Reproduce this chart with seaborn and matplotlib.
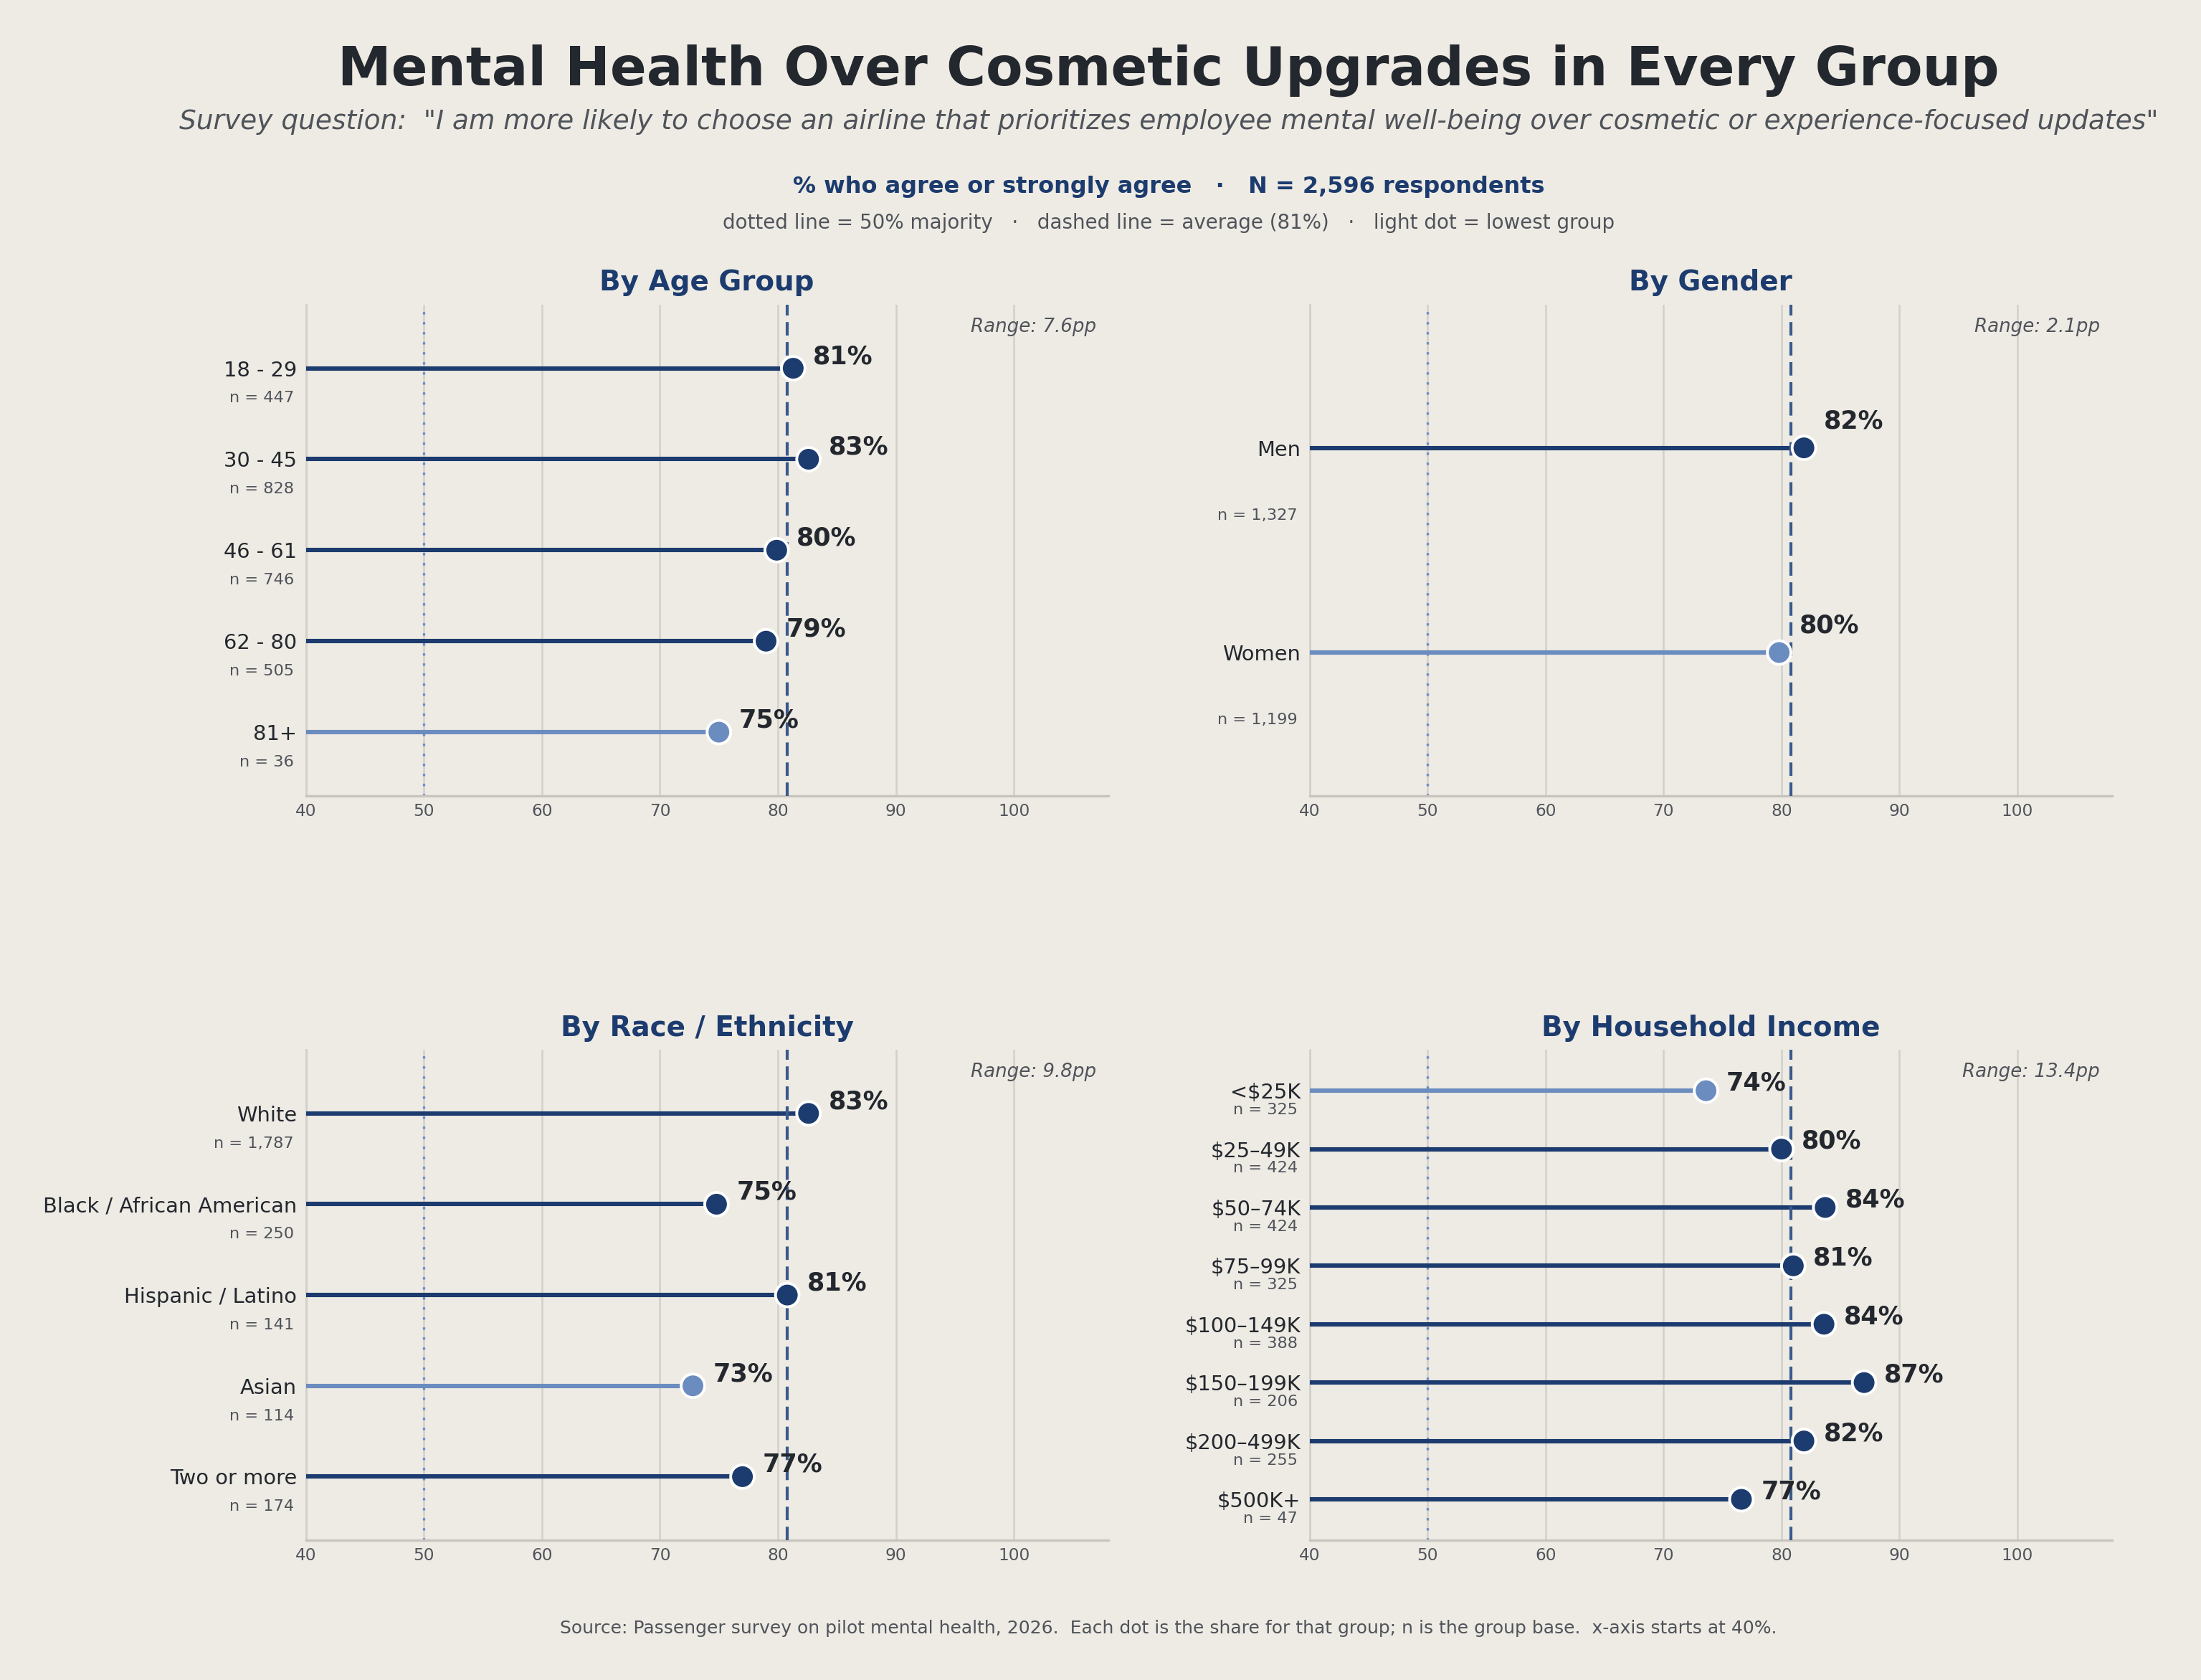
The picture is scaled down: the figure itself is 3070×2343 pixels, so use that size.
import numpy as np
import pandas as pd
import matplotlib.pyplot as plt
import matplotlib.transforms as mtransforms
import seaborn as sns

# Survey values (% agree or strongly agree)
age_labels = ["18 - 29", "30 - 45", "46 - 61", "62 - 80", "81+"]
age_values = [81.3, 82.6, 79.9, 79.0, 75.0]
age_n = [447, 828, 746, 505, 36]

gender_labels = ["Men", "Women"]
gender_values = [81.9, 79.8]
gender_n = [1327, 1199]

race_labels = ["White", "Black / African American", "Hispanic / Latino", "Asian", "Two or more"]
race_values = [82.6, 74.8, 80.8, 72.8, 77.0]
race_n = [1787, 250, 141, 114, 174]

income_labels = ["<$25K", "$25–49K", "$50–74K", "$75–99K", "$100–149K",
                 "$150–199K", "$200–499K", "$500K+"]
income_values = [73.6, 80.0, 83.7, 81.0, 83.6, 87.0, 81.9, 76.6]
income_n = [325, 424, 424, 325, 388, 206, 255, 47]

overall_avg = 80.8
majority = 50
x_ticks = [40, 50, 60, 70, 80, 90, 100]

BG = "#EEEBE4"
NAVY = "#1C3B6E"
LIGHT = "#6B8CBF"
DARK = "#23272E"
GREY = "#4F535A"

sns.set_theme(style="white")
plt.rcParams["font.family"] = ["DejaVu Sans"]
plt.rcParams["figure.facecolor"] = BG
plt.rcParams["axes.facecolor"] = BG


def draw_panel(ax, title, labels, values, ns):
    df = pd.DataFrame({"group": labels, "pct": values, "n": ns})
    df["pos"] = np.arange(len(df))
    low = df["pct"].idxmin()
    df["tone"] = np.where(df.index == low, "low", "main")
    colors = df["tone"].map({"main": NAVY, "low": LIGHT})

    ax.hlines(df["pos"], 40, df["pct"], colors=colors, lw=2.2, zorder=3)
    sns.scatterplot(data=df, x="pct", y="pos", hue="tone",
                    palette={"main": NAVY, "low": LIGHT}, s=140,
                    edgecolor="white", linewidth=1.4, legend=False,
                    ax=ax, zorder=5)

    ax.axvline(majority, color="#6B8CC8", lw=1.2, ls=(0, (1, 3.2)), zorder=2)
    ax.axvline(overall_avg, color="#3A5A8C", lw=1.5, ls=(0, (4.5, 2.2)), zorder=4)

    for _, r in df.iterrows():
        ax.text(r["pct"] + 1.7, r["pos"] - 0.13, f"{r['pct']:.0f}%",
                fontsize=12.6, fontweight="bold", color=DARK,
                ha="left", va="center", zorder=6)

    trans = mtransforms.blended_transform_factory(ax.transAxes, ax.transData)
    for _, r in df.iterrows():
        ax.text(-0.015, r["pos"] + 0.33, f"n = {r['n']:,}", transform=trans,
                fontsize=8.1, color=GREY, ha="right", va="center")

    rng = df["pct"].max() - df["pct"].min()
    ax.text(0.985, 0.955, f"Range: {rng:.1f}pp", transform=ax.transAxes,
            fontsize=9.4, style="italic", color=GREY, ha="right", va="center")

    ax.set_xlim(40, 108)
    ax.set_ylim(len(df) - 1 + 0.7, -0.7)
    ax.set_xticks(x_ticks)
    ax.set_yticks(df["pos"])
    ax.set_yticklabels(df["group"])
    ax.tick_params(axis="y", length=0, pad=4.5, labelsize=10.4, labelcolor=DARK)
    ax.tick_params(axis="x", length=0, pad=3.5, labelsize=8.4, labelcolor=GREY)
    ax.xaxis.grid(True, color="#D3D0C9", lw=0.9)
    ax.set_axisbelow(True)
    ax.set_xlabel("")
    ax.set_ylabel("")
    for side in ["top", "right"]:
        ax.spines[side].set_visible(False)
    ax.spines["left"].set_color("#D3D0C9")
    ax.spines["left"].set_linewidth(1.0)
    ax.spines["bottom"].set_color("#C8C5BE")
    ax.spines["bottom"].set_linewidth(1.2)
    ax.set_title(title, fontsize=14, fontweight="bold", color=NAVY, pad=7)


fig = plt.figure(figsize=(15.35, 11.715), dpi=200)
ax1 = fig.add_axes([0.139, 0.5263, 0.3645, 0.2924])
ax2 = fig.add_axes([0.595, 0.5263, 0.3645, 0.2924])
ax3 = fig.add_axes([0.139, 0.0832, 0.3645, 0.2919])
ax4 = fig.add_axes([0.595, 0.0832, 0.3645, 0.2919])

draw_panel(ax1, "By Age Group", age_labels, age_values, age_n)
draw_panel(ax2, "By Gender", gender_labels, gender_values, gender_n)
draw_panel(ax3, "By Race / Ethnicity", race_labels, race_values, race_n)
draw_panel(ax4, "By Household Income", income_labels, income_values, income_n)

cx = 0.531
fig.text(cx, 0.9496, "Mental Health Over Cosmetic Upgrades in Every Group",
         fontsize=27.0, fontweight="bold", color=DARK, ha="center", va="baseline")
fig.text(cx, 0.9232,
         'Survey question:  "I am more likely to choose an airline that prioritizes '
         'employee mental well-being over cosmetic or experience-focused updates"',
         fontsize=13.5, style="italic", color=GREY, ha="center", va="baseline")
fig.text(cx, 0.885, "% who agree or strongly agree   ·   N = 2,596 respondents",
         fontsize=11.5, fontweight="bold", color=NAVY, ha="center", va="baseline")
fig.text(cx, 0.8638,
         "dotted line = 50% majority   ·   dashed line = average (81%)   ·   light dot = lowest group",
         fontsize=10, color=GREY, ha="center", va="baseline")
fig.text(cx, 0.0277,
         "Source: Passenger survey on pilot mental health, 2026.  Each dot is the share for that group; "
         "n is the group base.  x-axis starts at 40%.",
         fontsize=9, color=GREY, ha="center", va="baseline")

fig.savefig("out.png", dpi=200, facecolor=BG)
